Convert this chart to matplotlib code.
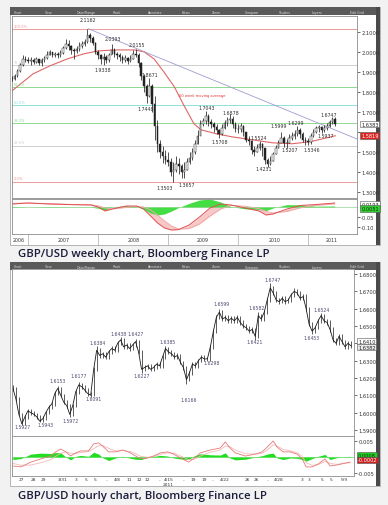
import numpy as np
import matplotlib
matplotlib.use("Agg")
import matplotlib.pyplot as plt
from matplotlib.patches import Rectangle
from matplotlib.transforms import blended_transform_factory as blend

# ---------------- weekly GBP/USD (2-week bars) ----------------
wk_close = [1.865, 1.880, 1.905, 1.935, 1.965, 1.960, 1.955, 1.960, 1.950, 1.965,
            1.945, 1.960, 1.970, 1.985, 2.000, 1.985, 1.990, 1.985, 1.995, 2.020,
            2.040, 2.030, 2.010, 2.005, 2.015, 2.030, 2.040, 2.050, 2.085, 2.070,
            2.045, 2.000, 1.985, 1.965, 1.975, 1.960, 1.985, 2.010, 1.990, 1.985,
            1.975, 1.960, 1.970, 1.955, 1.965, 1.990, 1.985, 1.945, 1.880, 1.830,
            1.780, 1.830, 1.740, 1.630, 1.540, 1.500, 1.480, 1.460, 1.450, 1.400,
            1.410, 1.440, 1.430, 1.400, 1.410, 1.450, 1.470, 1.500, 1.540, 1.580,
            1.640, 1.655, 1.680, 1.650, 1.640, 1.625, 1.610, 1.590, 1.620, 1.645,
            1.660, 1.665, 1.640, 1.615, 1.615, 1.630, 1.600, 1.560, 1.555, 1.510,
            1.500, 1.520, 1.540, 1.520, 1.460, 1.440, 1.455, 1.490, 1.520, 1.545,
            1.570, 1.545, 1.545, 1.570, 1.580, 1.590, 1.610, 1.590, 1.560, 1.555,
            1.550, 1.580, 1.600, 1.620, 1.625, 1.610, 1.620, 1.630, 1.650, 1.665,
            1.638]
wk_high = [1.880, 1.890, 1.915, 1.945, 1.985, 1.980, 1.975, 1.975, 1.970, 1.975,
           1.965, 1.970, 1.980, 2.005, 2.010, 2.000, 2.000, 2.000, 2.010, 2.030,
           2.065, 2.060, 2.035, 2.020, 2.030, 2.050, 2.055, 2.065, 2.1162, 2.095,
           2.080, 2.050, 2.010, 1.990, 1.995, 1.985, 1.995, 2.0393, 2.020, 2.000,
           1.995, 1.985, 1.985, 1.975, 1.985, 2.010, 2.0155, 1.995, 1.950, 1.890,
           1.840, 1.8671, 1.840, 1.780, 1.660, 1.560, 1.530, 1.510, 1.500, 1.470,
           1.450, 1.480, 1.470, 1.440, 1.450, 1.470, 1.500, 1.520, 1.560, 1.610,
           1.660, 1.670, 1.7043, 1.690, 1.665, 1.650, 1.640, 1.615, 1.640, 1.660,
           1.675, 1.6878, 1.680, 1.650, 1.640, 1.645, 1.635, 1.600, 1.580, 1.560,
           1.530, 1.540, 1.5524, 1.545, 1.510, 1.470, 1.480, 1.500, 1.535, 1.560,
           1.5999, 1.580, 1.565, 1.590, 1.600, 1.610, 1.6299, 1.620, 1.600, 1.575,
           1.570, 1.595, 1.615, 1.630, 1.635, 1.630, 1.635, 1.645, 1.660, 1.6747,
           1.675]
wk_low = [1.855, 1.860, 1.875, 1.900, 1.930, 1.950, 1.945, 1.935, 1.940, 1.945,
          1.935, 1.930, 1.950, 1.965, 1.985, 1.975, 1.975, 1.970, 1.975, 1.990,
          2.015, 2.010, 1.990, 1.965, 1.995, 2.005, 2.020, 2.030, 2.045, 2.050,
          2.035, 1.990, 1.965, 1.940, 1.934, 1.945, 1.950, 1.990, 1.975, 1.965,
          1.955, 1.945, 1.950, 1.940, 1.950, 1.965, 1.975, 1.925, 1.860, 1.800,
          1.7448, 1.775, 1.700, 1.560, 1.500, 1.470, 1.445, 1.440, 1.430, 1.380,
          1.350, 1.400, 1.390, 1.370, 1.366, 1.410, 1.440, 1.460, 1.490, 1.540,
          1.600, 1.630, 1.640, 1.630, 1.620, 1.600, 1.590, 1.5708, 1.585, 1.615,
          1.630, 1.645, 1.620, 1.600, 1.595, 1.600, 1.580, 1.550, 1.535, 1.490,
          1.480, 1.500, 1.510, 1.480, 1.440, 1.4231, 1.435, 1.455, 1.490, 1.520,
          1.550, 1.525, 1.5207, 1.545, 1.560, 1.565, 1.580, 1.570, 1.550, 1.535,
          1.5346, 1.540, 1.575, 1.595, 1.600, 1.5937, 1.600, 1.610, 1.625, 1.640,
          1.630]

ma_date = [2006.77, 2007.07, 2007.31, 2007.56, 2007.79, 2008.0, 2008.23, 2008.52,
           2008.66, 2008.8, 2008.94, 2009.09, 2009.23, 2009.37, 2009.47, 2009.69,
           2009.91, 2010.2, 2010.49, 2010.77, 2011.03, 2011.39]
ma_val = [1.805, 1.89, 1.93, 1.965, 1.99, 2.005, 2.01, 2.01, 2.0, 1.965, 1.90,
          1.825, 1.73, 1.64, 1.61, 1.59, 1.575, 1.56, 1.545, 1.54, 1.55, 1.58]

trend_date = [2007.86, 2011.70]
trend_val = [2.1162, 1.564]

fib_levels = [2.1162, 1.9355, 1.8236, 1.7333, 1.6429, 1.5311, 1.3503]
fib_labels = ['100.0%', '76.4%', '61.8%', '50.0%', '38.2%', '23.6%', '0.0%']
fib_colors = ['#ee9a9a', '#cfcfcf', '#8fd98f', '#8fdede', '#8fd98f', '#cfcfcf', '#ee9a9a']

wk_notes = [(2007.856, 2.160, '2.1162'), (2008.213, 2.065, '2.0393'),
            (2008.07, 1.910, '1.9338'), (2008.556, 2.035, '2.0155'),
            (2008.74, 1.885, '1.8671'), (2008.684, 1.719, '1.7448'),
            (2008.956, 1.323, '1.3503'), (2009.27, 1.338, '1.3657'),
            (2009.556, 1.724, '1.7043'), (2009.899, 1.699, '1.6878'),
            (2009.741, 1.549, '1.5708'), (2010.299, 1.569, '1.5524'),
            (2010.37, 1.414, '1.4231'), (2010.584, 1.629, '1.5999'),
            (2010.827, 1.649, '1.6299'), (2010.741, 1.509, '1.5207'),
            (2011.056, 1.509, '1.5346'), (2011.256, 1.579, '1.5937'),
            (2011.299, 1.689, '1.6747')]

wk_ticks = [1.3, 1.4, 1.5, 1.6, 1.7, 1.8, 1.9, 2.0, 2.1]
wk_tick_labels = ['1.3000', '1.4000', '1.5000', '', '1.7000', '1.8000', '1.9000', '2.0000', '2.1000']

wk_macd_x = [2006.77, 2007.0, 2007.3, 2007.6, 2007.9, 2008.0, 2008.1, 2008.2, 2008.4,
             2008.55, 2008.65, 2008.75, 2008.85, 2008.95, 2009.05, 2009.15, 2009.3,
             2009.45, 2009.6, 2009.75, 2009.9, 2010.1, 2010.3, 2010.4, 2010.5, 2010.7,
             2010.9, 2011.1, 2011.38]
wk_macd = [0.015, 0.02, 0.015, 0.012, 0.01, 0.0, -0.02, -0.01, 0.005, 0.005, -0.01,
           -0.045, -0.08, -0.105, -0.115, -0.113, -0.09, -0.05, -0.005, 0.015, 0.01,
           -0.005, -0.02, -0.04, -0.035, -0.01, 0.008, 0.012, 0.02]
wk_signal = [0.018, 0.02, 0.017, 0.013, 0.011, 0.006, -0.005, -0.01, -0.002, 0.003,
             0.0, -0.015, -0.04, -0.07, -0.095, -0.11, -0.108, -0.085, -0.045, -0.01,
             0.008, 0.004, -0.008, -0.022, -0.03, -0.022, -0.003, 0.008, 0.015]
wk_hist = [-0.003, 0.0, -0.002, -0.001, -0.001, -0.006, -0.015, 0.0, 0.007, 0.002,
           -0.01, -0.03, -0.04, -0.035, -0.02, -0.003, 0.018, 0.035, 0.04, 0.025,
           0.002, -0.009, -0.012, -0.018, -0.005, 0.012, 0.011, 0.004, 0.005]

wk_year_pos = [2006.86, 2007.51, 2008.51, 2009.49, 2010.53, 2011.34]
wk_year_labels = ['2006', '2007', '2008', '2009', '2010', '2011']

# ---------------- hourly GBP/USD ----------------
hr_close = [1.6140, 1.6080, 1.5990, 1.5935, 1.5975, 1.6010, 1.6000, 1.5990, 1.5975, 1.5950,
            1.5965, 1.6000, 1.6030, 1.6050, 1.6110, 1.6140, 1.6100, 1.6060, 1.6040, 1.5990,
            1.6040, 1.6120, 1.6160, 1.6150, 1.6130, 1.6110, 1.6100, 1.6250, 1.6360, 1.6330,
            1.6340, 1.6320, 1.6350, 1.6370, 1.6360, 1.6400, 1.6420, 1.6380, 1.6390, 1.6370,
            1.6390, 1.6410, 1.6350, 1.6250, 1.6260, 1.6270, 1.6250, 1.6260, 1.6280, 1.6270,
            1.6320, 1.6370, 1.6350, 1.6340, 1.6320, 1.6330, 1.6290, 1.6260, 1.6190, 1.6230,
            1.6280, 1.6270, 1.6300, 1.6320, 1.6310, 1.6310, 1.6380, 1.6470, 1.6550, 1.6580,
            1.6540, 1.6550, 1.6530, 1.6545, 1.6530, 1.6550, 1.6520, 1.6500, 1.6490, 1.6470,
            1.6480, 1.6440, 1.6560, 1.6540, 1.6580, 1.6650, 1.6720, 1.6690, 1.6650, 1.6640,
            1.6660, 1.6640, 1.6650, 1.6680, 1.6700, 1.6690, 1.6660, 1.6670, 1.6600, 1.6510,
            1.6470, 1.6490, 1.6530, 1.6560, 1.6530, 1.6520, 1.6480, 1.6420, 1.6400, 1.6440,
            1.6410, 1.6380, 1.6400, 1.6385]
hr_high = [1.6160, 1.6150, 1.6090, 1.6000, 1.5988, 1.6022, 1.6020, 1.6010, 1.6000, 1.5985,
           1.5978, 1.6012, 1.6042, 1.6062, 1.6122, 1.6153, 1.6150, 1.6110, 1.6072, 1.6050,
           1.6052, 1.6132, 1.6177, 1.6170, 1.6160, 1.6140, 1.6120, 1.6262, 1.6384, 1.6372,
           1.6352, 1.6352, 1.6362, 1.6382, 1.6382, 1.6412, 1.6438, 1.6430, 1.6402, 1.6402,
           1.6402, 1.6427, 1.6420, 1.6360, 1.6272, 1.6282, 1.6280, 1.6272, 1.6292, 1.6292,
           1.6332, 1.6385, 1.6380, 1.6362, 1.6352, 1.6342, 1.6340, 1.6300, 1.6270, 1.6242,
           1.6292, 1.6292, 1.6312, 1.6332, 1.6330, 1.6322, 1.6392, 1.6482, 1.6562, 1.6599,
           1.6590, 1.6562, 1.6562, 1.6557, 1.6557, 1.6562, 1.6560, 1.6532, 1.6512, 1.6502,
           1.6492, 1.6490, 1.6582, 1.6572, 1.6592, 1.6662, 1.6747, 1.6732, 1.6702, 1.6662,
           1.6672, 1.6672, 1.6662, 1.6692, 1.6720, 1.6712, 1.6702, 1.6682, 1.6682, 1.6612,
           1.6522, 1.6502, 1.6542, 1.6574, 1.6572, 1.6542, 1.6532, 1.6492, 1.6432, 1.6452,
           1.6452, 1.6422, 1.6412, 1.6412]
hr_low = [1.6125, 1.6068, 1.5978, 1.5927, 1.5930, 1.5965, 1.5988, 1.5978, 1.5963, 1.5943,
          1.5945, 1.5958, 1.5990, 1.6020, 1.6040, 1.6100, 1.6088, 1.6048, 1.6028, 1.5972,
          1.5980, 1.6030, 1.6110, 1.6138, 1.6118, 1.6098, 1.6091, 1.6095, 1.6240, 1.6318,
          1.6318, 1.6308, 1.6310, 1.6340, 1.6348, 1.6350, 1.6390, 1.6368, 1.6368, 1.6358,
          1.6360, 1.6380, 1.6338, 1.6227, 1.6240, 1.6250, 1.6238, 1.6240, 1.6250, 1.6258,
          1.6260, 1.6310, 1.6338, 1.6328, 1.6308, 1.6310, 1.6278, 1.6248, 1.6166, 1.6180,
          1.6220, 1.6258, 1.6260, 1.6290, 1.6298, 1.6298, 1.6300, 1.6370, 1.6460, 1.6540,
          1.6528, 1.6530, 1.6518, 1.6520, 1.6518, 1.6520, 1.6508, 1.6488, 1.6478, 1.6458,
          1.6460, 1.6421, 1.6430, 1.6528, 1.6530, 1.6570, 1.6640, 1.6678, 1.6638, 1.6628,
          1.6630, 1.6628, 1.6630, 1.6640, 1.6670, 1.6678, 1.6648, 1.6650, 1.6588, 1.6498,
          1.6453, 1.6460, 1.6480, 1.6520, 1.6518, 1.6508, 1.6468, 1.6408, 1.6388, 1.6390,
          1.6398, 1.6368, 1.6370, 1.6373]

hr_notes = [(3.3, 1.5917, '1.5927'), (11, 1.5929, '1.5943'), (15, 1.6183, '1.6153'),
            (19.3, 1.5952, '1.5972'), (22, 1.6212, '1.6177'), (27, 1.6079, '1.6091'),
            (28.3, 1.6402, '1.6384'), (35.3, 1.6454, '1.6438'), (41, 1.6454, '1.6427'),
            (43, 1.6212, '1.6227'), (51.7, 1.6408, '1.6385'), (58.7, 1.6075, '1.6166'),
            (66.3, 1.6292, '1.6298'), (69.7, 1.6627, '1.6599'), (81.3, 1.6604, '1.6582'),
            (80.7, 1.6408, '1.6421'), (86.7, 1.6771, '1.6747'), (103, 1.6598, '1.6524'),
            (99.7, 1.6431, '1.6453')]

hr_ticks = [1.59, 1.60, 1.61, 1.62, 1.63, 1.64, 1.65, 1.66, 1.67, 1.68]
hr_tick_labels = ['1.5900', '1.6000', '1.6100', '1.6200', '1.6300', '', '1.6500',
                  '1.6600', '1.6700', '1.6800']

hr_macd_x = [0, 2.7, 6, 9.3, 12.7, 14.3, 16, 17.7, 19.3, 21, 22.7, 25.3, 27, 28.7, 30,
             32, 34.3, 36.7, 39.3, 41, 42.7, 45, 47, 49.3, 51.7, 53.7, 56, 58.7, 60.7,
             62.7, 66, 69.3, 71, 72.3, 74.3, 77.7, 81, 83.3, 85.3, 87, 88.3, 90.3, 92.7,
             95, 96.7, 98, 100, 102, 104.3, 106, 108.3, 111, 112.7]
hr_macd = [-0.0028, -0.0031, -0.0016, -0.0006, 0.0003, 0.0016, 0.0025, 0.0016, 0.0003,
           0.0013, 0.0019, 0.0019, 0.0041, 0.0044, 0.0034, 0.0016, 0.0016, 0.0022,
           0.0013, 0.0003, -0.0006, -0.0003, 0.0003, 0.0013, 0.0016, 0.0009, -0.0003,
           -0.0016, -0.0003, 0.0013, 0.0022, 0.0028, 0.0047, 0.0031, 0.0013, 0.0003,
           0.0009, 0.0016, 0.0034, 0.0050, 0.0031, 0.0016, 0.0016, 0.0009, -0.0006,
           -0.0031, -0.0031, -0.0022, -0.0006, -0.0028, -0.0025, -0.0019, -0.0016]
hr_signal = [-0.0020, -0.0026, -0.0025, -0.0018, -0.0008, 0.0002, 0.0012, 0.0016, 0.0012,
             0.0011, 0.0014, 0.0017, 0.0026, 0.0035, 0.0036, 0.0027, 0.0019, 0.0020,
             0.0017, 0.0010, 0.0002, -0.0001, 0.0001, 0.0008, 0.0013, 0.0012, 0.0003,
             -0.0008, -0.0007, 0.0003, 0.0015, 0.0022, 0.0034, 0.0033, 0.0022, 0.0010,
             0.0009, 0.0012, 0.0024, 0.0038, 0.0034, 0.0024, 0.0019, 0.0013, 0.0002,
             -0.0018, -0.0026, -0.0024, -0.0014, -0.0020, -0.0023, -0.0020, -0.0018]
hr_hist = [-0.0008, -0.0005, 0.0009, 0.0012, 0.0011, 0.0014, 0.0013, 0.0000, -0.0009,
           0.0002, 0.0005, 0.0002, 0.0015, 0.0009, -0.0002, -0.0011, -0.0003, 0.0002,
           -0.0004, -0.0007, -0.0008, -0.0002, 0.0002, 0.0005, 0.0003, -0.0003, -0.0006,
           -0.0008, 0.0004, 0.0010, 0.0007, 0.0006, 0.0013, -0.0002, -0.0009, -0.0007,
           0.0000, 0.0004, 0.0010, 0.0012, -0.0003, -0.0008, -0.0003, -0.0004, -0.0008,
           -0.0013, -0.0005, 0.0002, 0.0008, -0.0008, -0.0002, 0.0001, 0.0002]

hr_xpos = [2.7, 7, 10.3, 16.7, 21, 24.3, 27.3, 31.3, 35, 39, 42.3, 45, 49, 52, 57,
           60.3, 64, 67, 70.7, 78.3, 81.3, 85.3, 88.7, 96.7, 99, 103.3, 106.3, 110.7]
hr_xlabels = ['27', '28', '29', '3/31', '3', '5', '5', '..', '4/8', '11', '12', '12',
              '..', '4/15', '..', '19', '19', '..', '4/22', '26', '26', '..', '4/28',
              '3', '3', '5', '5', '5/9']

menu = [(14, 'Chart'), (45, 'View'), (77, 'Date/Range'), (113, 'Track'),
        (148, 'Annotate'), (182, 'News'), (212, 'Zoom'), (245, 'Compare'),
        (279, 'Studies'), (312, 'Layers'), (350, 'Edit Grid')]

W, H = 388, 506


def box(x0, y0, x1, y1):
    return [x0 / W, 1 - y1 / H, (x1 - x0) / W, (y1 - y0) / H]


fig = plt.figure(figsize=(W / 100, H / 100), dpi=100, facecolor='#f2f2f2')

bg = fig.add_axes([0, 0, 1, 1])
bg.set_xlim(0, W)
bg.set_ylim(H, 0)
bg.axis('off')


def chrome(top, bottom, caption, cap_y):
    bg.add_patch(Rectangle((10, top), 370, bottom - top, fc='white', ec='#a8a8a8', lw=0.6))
    bg.add_patch(Rectangle((10, top), 370, 8, fc='#5a5a5a', ec='none'))
    bg.add_patch(Rectangle((376, top), 4, bottom - top, fc='#4a4a4a', ec='none'))
    for x, s in menu:
        bg.text(x, top + 4.5, s, fontsize=2.3, color='#d8d8d8', va='center')
    bg.text(18, cap_y, caption, fontsize=8.2, color='#1c1c3c', va='center',
            family='Open Sans', fontweight='semibold')


chrome(8, 246, 'GBP/USD weekly chart, Bloomberg Finance LP', 255)
chrome(263, 487, 'GBP/USD hourly chart, Bloomberg Finance LP', 497)


def style(ax):
    for s in ax.spines.values():
        s.set_color('#8c8c8c')
        s.set_linewidth(0.6)
    ax.yaxis.tick_right()
    ax.tick_params(axis='y', labelsize=3.7, length=2, width=0.5, pad=1,
                   colors='#333333')
    ax.tick_params(axis='x', bottom=False, labelbottom=False)


def side_box(ax, y, text, fc, tc):
    ax.text(1.012, y, text, transform=blend(ax.transAxes, ax.transData),
            fontsize=3.6, va='center', ha='left', color=tc,
            bbox=dict(boxstyle='square,pad=0.15', fc=fc, ec='#555555', lw=0.4))


# ---- weekly price panel ----
axw = fig.add_axes(box(12, 17, 357, 199))
axw.set_xlim(2006.77, 2011.70)
axw.set_ylim(1.2683, 2.180)
style(axw)
axw.set_yticks(wk_ticks)
axw.set_yticklabels(wk_tick_labels)

for lev, lab, c in zip(fib_levels, fib_labels, fib_colors):
    axw.axhline(lev, color=c, lw=0.7, zorder=0.5)
    axw.text(2006.80, lev + 0.006, lab, fontsize=2.6, color=c, va='bottom')

wk_date = 2006.77 + np.arange(len(wk_close)) / 26
wk_open = [wk_close[0]] + wk_close[:-1]
axw.vlines(wk_date, wk_low, wk_high, color='#222222', lw=0.55, zorder=3)
body_col = ['white' if c >= o else '#222222' for o, c in zip(wk_open, wk_close)]
axw.bar(wk_date, np.array(wk_close) - np.array(wk_open), bottom=wk_open, width=0.022,
        color=body_col, edgecolor='#222222', linewidth=0.35, zorder=4)

axw.plot(ma_date, ma_val, color='#e06666', lw=0.8, zorder=2)
axw.plot(trend_date, trend_val, color='#9d9dd0', lw=0.6, zorder=2)
axw.text(2009.16, 1.784, '50 week moving average', fontsize=2.6, color='#e03030',
         va='center')

for d, p, s in wk_notes:
    axw.text(d, p, s, fontsize=3.4, ha='center', va='center', color='#303030', zorder=5)

side_box(axw, 1.6383, '1.6383', 'white', '#222222')
side_box(axw, 1.5819, '1.5819', '#dd2222', 'white')

# ---- weekly MACD panel ----
axwm = fig.add_axes(box(12, 200, 357, 235))
axwm.set_xlim(2006.77, 2011.70)
axwm.set_ylim(-0.135, 0.04)
style(axwm)
axwm.fill_between(wk_macd_x, wk_macd, wk_signal, color='#f8c8c8', lw=0)
axwm.fill_between(wk_macd_x, 0, wk_hist, color='#44dd44', lw=0)
axwm.axhline(0, color='#77cc77', lw=0.4)
axwm.plot(wk_macd_x, wk_signal, color='#f0aaaa', lw=0.7)
axwm.plot(wk_macd_x, wk_macd, color='#e05050', lw=0.7)
axwm.set_yticks([-0.05, -0.10])
axwm.set_yticklabels(['-0.05', '-0.10'])
side_box(axwm, 0.012, '0.0193', 'white', '#222222')
side_box(axwm, -0.008, '0.0051', '#33cc33', '#113311')
axwm.set_xticks([2007, 2008, 2009, 2010, 2011])
axwm.tick_params(axis='x', bottom=True, length=8, width=0.5, color='#aaaaaa',
                 direction='out')
tw = blend(axwm.transData, axwm.transAxes)
for x, s in zip(wk_year_pos, wk_year_labels):
    axwm.text(x, -0.17, s, transform=tw, fontsize=3.4, ha='center', va='center',
              color='#333333')

# ---- hourly price panel ----
axh = fig.add_axes(box(12, 270, 354, 437))
axh.set_xlim(-0.3, 114)
axh.set_ylim(1.5865, 1.6829)
style(axh)
axh.set_yticks(hr_ticks)
axh.set_yticklabels(hr_tick_labels)
hr_idx = np.arange(len(hr_close))
axh.vlines(hr_idx, hr_low, hr_high, color='#1a1a1a', lw=0.5)
axh.plot(hr_idx, hr_close, color='#1a1a1a', lw=0.6)
for i, p, s in hr_notes:
    axh.text(i, p, s, fontsize=3.3, ha='center', va='center', color='#4a4a6e')
side_box(axh, 1.6412, '1.6410', 'white', '#222222')
side_box(axh, 1.6378, '1.6382', '#e8e8e8', '#222222')

# ---- hourly MACD panel ----
axhm = fig.add_axes(box(12, 437, 354, 477))
axhm.set_xlim(-0.3, 114)
axhm.set_ylim(-0.00594, 0.00656)
style(axhm)
axhm.fill_between(hr_macd_x, 0, hr_hist, color='#22dd22', lw=0)
axhm.axhline(0, color='#55dd55', lw=0.5)
axhm.plot(hr_macd_x, hr_signal, color='#f5b8b8', lw=0.6)
axhm.plot(hr_macd_x, hr_macd, color='#e87878', lw=0.6)
axhm.set_yticks([0.005, -0.005])
axhm.set_yticklabels(['0.005', '-0.005'])
side_box(axhm, 0.0006, '0.0008', '#22cc22', '#113311')
side_box(axhm, -0.0009, '-0.0002', '#cc2222', 'white')
th = blend(axhm.transData, axhm.transAxes)
for x, s in zip(hr_xpos, hr_xlabels):
    axhm.text(x, -0.07, s, transform=th, fontsize=3.2, ha='center', va='center',
              color='#333333')
axhm.text(52, -0.2, '2011', transform=th, fontsize=3.2, ha='center', va='center',
          color='#333333')

fig.savefig('out.png', dpi=100, facecolor=fig.get_facecolor())
